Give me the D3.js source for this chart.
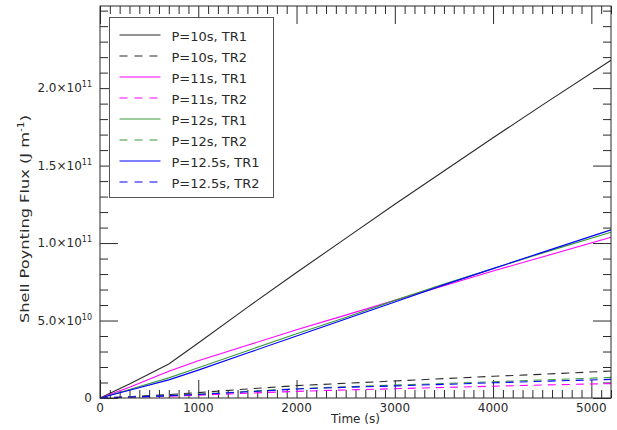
<!DOCTYPE html>
<html>
<head>
<meta charset="utf-8">
<script src="https://cdn.jsdelivr.net/npm/d3@7"></script>
<style>
  body { margin: 0; background: #fff; }
  text { font-family: "DejaVu Sans", sans-serif; fill: #2a2a2a; }
</style>
</head>
<body>
<div id="chart"></div>
<script>
// time samples (s), values in units of 1e10 J/m
const times = [0, 300, 700, 1000, 1500, 2000, 2500, 3000, 3500, 4000, 4500, 5200];

const p10tr1  = [0, 0.9, 2.2, 3.55, 5.85, 8.1, 10.3, 12.5, 14.65, 16.8, 18.9, 21.8];
const p10tr2  = [0, 0.08, 0.22, 0.35, 0.58, 0.8, 0.95, 1.1, 1.25, 1.4, 1.53, 1.74];
const p11tr1  = [0, 0.7, 1.72, 2.4, 3.4, 4.4, 5.35, 6.3, 7.25, 8.2, 9.1, 10.37];
const p11tr2  = [0, 0.05, 0.12, 0.18, 0.31, 0.43, 0.52, 0.6, 0.68, 0.76, 0.84, 0.93];
const p12tr1  = [0, 0.55, 1.3, 1.95, 3.05, 4.15, 5.2, 6.3, 7.35, 8.35, 9.35, 10.7];
const p12tr2  = [0, 0.06, 0.16, 0.25, 0.42, 0.6, 0.72, 0.83, 0.94, 1.05, 1.16, 1.33];
const p125tr1 = [0, 0.5, 1.17, 1.8, 2.9, 4.0, 5.1, 6.2, 7.3, 8.35, 9.4, 10.85];
const p125tr2 = [0, 0.06, 0.15, 0.23, 0.4, 0.58, 0.69, 0.78, 0.88, 0.98, 1.08, 1.2];

const seriesNames = ["P=10s, TR1", "P=10s, TR2", "P=11s, TR1", "P=11s, TR2",
                     "P=12s, TR1", "P=12s, TR2", "P=12.5s, TR1", "P=12.5s, TR2"];
const seriesValues = [p10tr1, p10tr2, p11tr1, p11tr2, p12tr1, p12tr2, p125tr1, p125tr2];
const colors = ["#2a2a2a", "#2a2a2a", "#ff00ff", "#ff00ff", "#3a9a3a", "#3a9a3a", "#0000ff", "#0000ff"];

const xTicks = [0, 1000, 2000, 3000, 4000, 5000];
const yTicks = [0, 5e10, 1e11, 1.5e11, 2e11];
const yTickLabels = ["0", "5.0×10^10", "1.0×10^11", "1.5×10^11", "2.0×10^11"];

const width = 617, height = 430;
const margin = { top: 6, right: 6, bottom: 32, left: 100 };

const svg = d3.select("#chart").append("svg")
  .attr("width", width).attr("height", height);

const x = d3.scaleLinear().domain([0, 5200]).range([margin.left, width - margin.right]);
const y = d3.scaleLinear().domain([0, 2.53e11]).range([height - margin.bottom, margin.top]);

const x0 = x.range()[0], x1 = x.range()[1];
const y0 = y.range()[0], y1 = y.range()[1];

const minorX = d3.range(0, 5201, 100).filter(v => v % 1000 !== 0);
const minorY = d3.range(0, 2.51e11, 1e10).filter(v => !yTicks.some(t => Math.abs(t - v) < 1));

function ticks(g, axis, vals, size) {
  g.call(axis.tickValues(vals).tickSize(-size).tickFormat(""))
    .call(s => s.select(".domain").remove())
    .selectAll("line").attr("stroke", "#2a2a2a");
}

// inward ticks on all four sides
svg.append("g").attr("transform", `translate(0,${y0})`).call(ticks, d3.axisBottom(x), minorX, 8);
svg.append("g").attr("transform", `translate(0,${y1})`).call(ticks, d3.axisTop(x), minorX, 8);
svg.append("g").attr("transform", `translate(0,${y0})`).call(ticks, d3.axisBottom(x), xTicks, 18);
svg.append("g").attr("transform", `translate(0,${y1})`).call(ticks, d3.axisTop(x), xTicks, 18);
svg.append("g").attr("transform", `translate(${x0},0)`).call(ticks, d3.axisLeft(y), minorY, 8);
svg.append("g").attr("transform", `translate(${x1},0)`).call(ticks, d3.axisRight(y), minorY, 8);
svg.append("g").attr("transform", `translate(${x0},0)`).call(ticks, d3.axisLeft(y), yTicks, 18);
svg.append("g").attr("transform", `translate(${x1},0)`).call(ticks, d3.axisRight(y), yTicks, 18);

// x tick labels
svg.append("g").selectAll("text").data(xTicks).join("text")
  .attr("x", d => x(d)).attr("y", y0 + 14)
  .attr("text-anchor", "middle").attr("font-size", 12)
  .text(d => d);

// y tick labels with superscript exponent
svg.append("g").selectAll("text").data(yTicks).join("text")
  .attr("x", x0 - 8).attr("y", d => y(d) + 4)
  .attr("text-anchor", "end").attr("font-size", 12)
  .each(function(d, i) {
    const parts = yTickLabels[i].split("^");
    const t = d3.select(this);
    t.append("tspan").text(parts[0]);
    if (parts[1]) t.append("tspan").attr("font-size", 8).attr("dy", -5).text(parts[1]);
  });

// lines: solid first, dashed on top
const line = d3.line().x((d, i) => x(times[i])).y(d => y(d * 1e10));
const series = seriesNames.map((name, i) => ({
  name, values: seriesValues[i], color: colors[i], dashed: i % 2 === 1, row: i
}));
const drawOrder = series.filter(s => !s.dashed).concat(series.filter(s => s.dashed));

svg.append("g").selectAll("path").data(drawOrder).join("path")
  .attr("d", s => line(s.values))
  .attr("fill", "none")
  .attr("stroke", s => s.color)
  .attr("stroke-width", 1.1)
  .attr("stroke-dasharray", s => s.dashed ? "8,6" : null);

// frame
svg.append("rect")
  .attr("x", x0).attr("y", y1).attr("width", x1 - x0).attr("height", y0 - y1)
  .attr("fill", "none").attr("stroke", "#2a2a2a");

// legend
const lg = svg.append("g").attr("transform", "translate(109.5,17.5)");
lg.append("rect").attr("width", 164).attr("height", 180)
  .attr("fill", "#fff").attr("stroke", "#555");
const rows = lg.selectAll("g.row").data(series).join("g")
  .attr("class", "row")
  .attr("transform", s => `translate(0,${17.5 + s.row * 21})`);
rows.append("line").attr("x1", 10).attr("x2", 51)
  .attr("stroke", s => s.color).attr("stroke-width", 1.2)
  .attr("stroke-dasharray", s => s.dashed ? "8,7" : null);
rows.append("text").attr("x", 62).attr("y", 5.5).attr("font-size", 13).text(s => s.name);

// axis titles
svg.append("text")
  .attr("x", (x0 + x1) / 2).attr("y", 423)
  .attr("text-anchor", "middle").attr("font-size", 12)
  .text("Time (s)");

const yl = svg.append("text")
  .attr("transform", "translate(29,219) rotate(-90) scale(1.35,1)")
  .attr("text-anchor", "middle").attr("font-size", 12);
yl.append("tspan").text("Shell Poynting Flux (J m");
yl.append("tspan").attr("font-size", 8).attr("dy", -5).text("-1");
yl.append("tspan").attr("dy", 5).text(")");
</script>
</body>
</html>
